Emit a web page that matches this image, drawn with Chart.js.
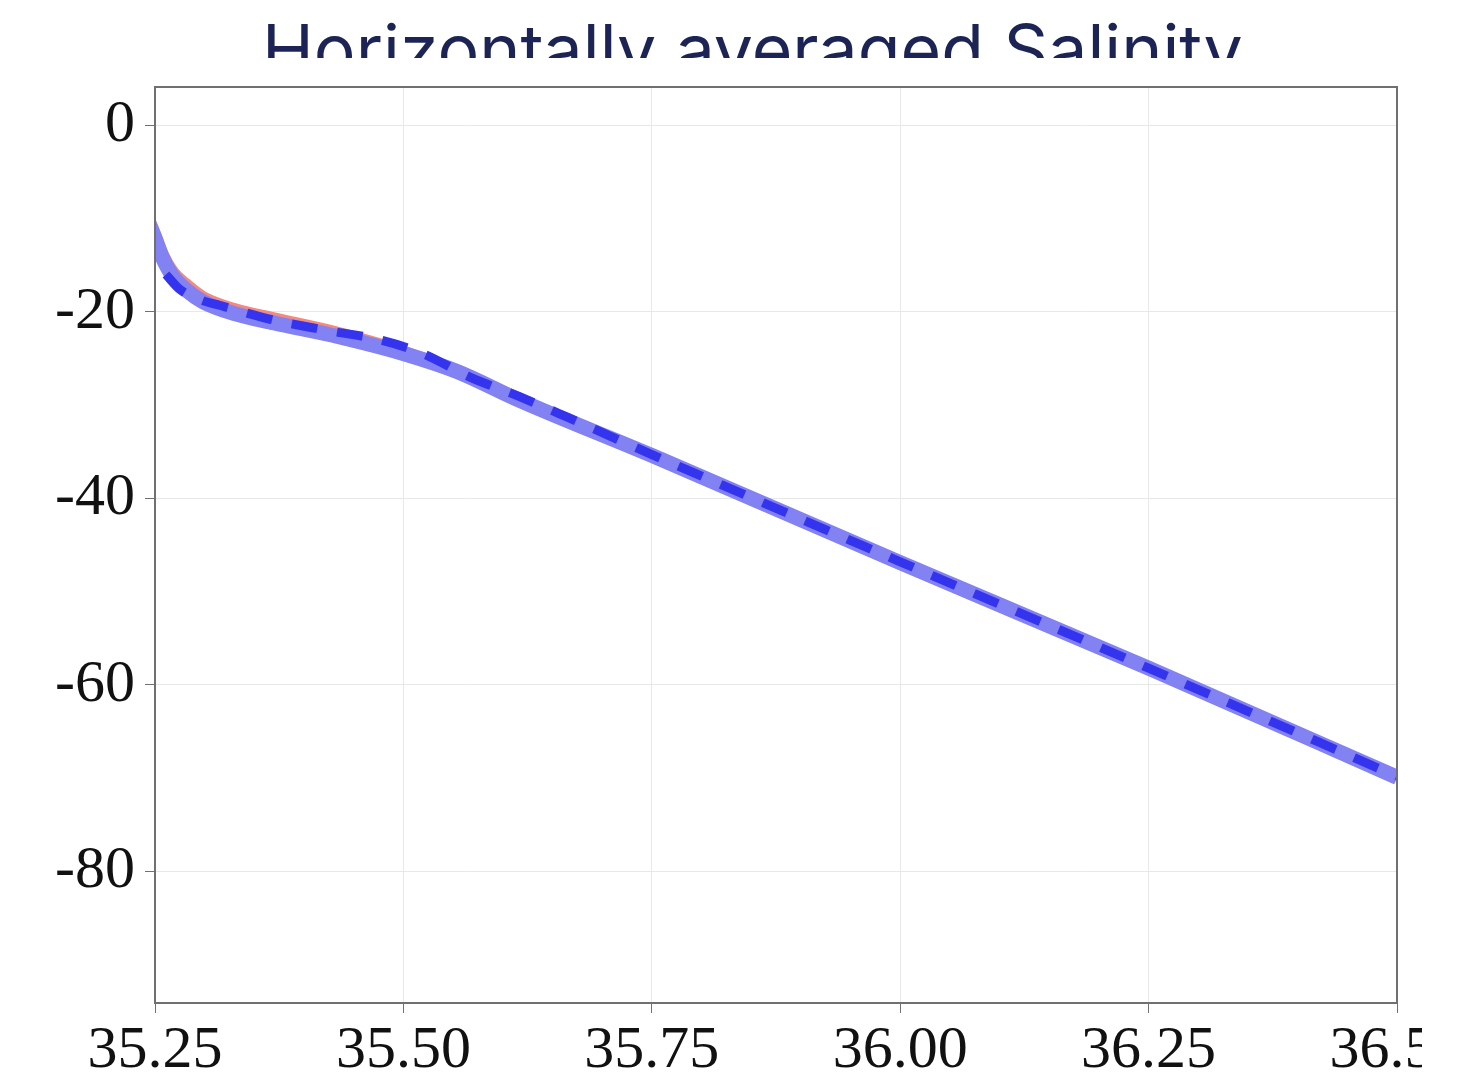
<!DOCTYPE html>
<html>
<head>
<meta charset="utf-8">
<script src="https://cdn.jsdelivr.net/npm/chart.js@4"></script>
<style>
  html, body { margin: 0; padding: 0; background: #fff; }
  #wrap { position: relative; width: 1422px; height: 1076px; overflow: hidden; }
  #chart { display: block; }
</style>
</head>
<body>
<div id="wrap"><canvas id="chart" width="1481" height="1076"></canvas></div>
<script>
const titleText = 'Horizontally averaged Salinity';

// salinity ticks along the bottom, depth ticks on the left
const salinityTicks = [35.25, 35.5, 35.75, 36.0, 36.25, 36.5];
const depthTicks = [0, -20, -40, -60, -80];

// red reference profile
const redSalinity = [35.244, 35.25, 35.258, 35.268, 35.283, 35.298, 35.33, 35.37, 35.436, 35.504, 35.554, 35.617, 35.75, 36.0, 36.25, 36.5];
const redDepth    = [-10.2, -11.7, -13.9, -15.7, -17.2, -18.4, -19.7, -20.7, -22.3, -24.4, -26.5, -29.6, -35.5, -47.0, -58.3, -70.0];

// thick light-blue profile
const blueSalinity = [35.244, 35.25, 35.258, 35.268, 35.283, 35.298, 35.33, 35.37, 35.436, 35.504, 35.554, 35.617, 35.75, 36.0, 36.25, 36.5];
const blueDepth    = [-10.5, -12.1, -14.3, -16.2, -17.8, -18.9, -20.2, -21.2, -22.7, -24.6, -26.4, -29.5, -35.4, -46.9, -58.2, -69.9];

// dashed blue profile
const dashSalinity = [35.261, 35.275, 35.298, 35.315, 35.366, 35.418, 35.476, 35.52, 35.567, 35.617, 35.665, 35.75, 36.0, 36.25, 36.5];
const dashDepth    = [-16.0, -17.6, -18.8, -19.3, -20.8, -21.9, -23.0, -24.5, -27.0, -29.1, -31.3, -35.3, -46.8, -58.2, -69.8];

const toPoints = (xs, ys) => xs.map((x, i) => ({ x: x, y: ys[i] }));

const tickFont = { family: '"Liberation Serif", "DejaVu Serif", serif', size: 60, lineHeight: 1 };

// frame around the plot area plus the clipped title on top
const framePlugin = {
  id: 'frame',
  afterDraw(chart) {
    const { ctx, chartArea: a } = chart;
    ctx.save();
    ctx.strokeStyle = '#707070';
    ctx.lineWidth = 2;
    ctx.strokeRect(a.left, a.top, a.right - a.left, a.bottom - a.top);
    ctx.restore();

    ctx.save();
    ctx.beginPath();
    ctx.rect(0, 0, chart.width, 58);
    ctx.clip();
    let size = 58;
    ctx.font = size + 'px Inter, "Open Sans", sans-serif';
    const w = ctx.measureText(titleText).width;
    size = size * 981 / w;
    ctx.font = size + 'px Inter, "Open Sans", sans-serif';
    ctx.fillStyle = '#1b2454';
    ctx.textAlign = 'left';
    ctx.textBaseline = 'alphabetic';
    ctx.fillText(titleText, 262, 24 + size * 0.727);
    ctx.restore();
  }
};

new Chart(document.getElementById('chart'), {
  type: 'scatter',
  data: {
    datasets: [
      {
        label: 'dashed',
        data: toPoints(dashSalinity, dashDepth),
        showLine: true,
        borderColor: '#3434ee',
        borderWidth: 9,
        borderDash: [26, 20],
        borderCapStyle: 'butt',
        pointRadius: 0,
        cubicInterpolationMode: 'monotone',
        clip: 0,
        order: 0
      },
      {
        label: 'blue',
        data: toPoints(blueSalinity, blueDepth),
        showLine: true,
        borderColor: '#8282f3',
        borderWidth: 15,
        pointRadius: 0,
        cubicInterpolationMode: 'monotone',
        clip: 0,
        order: 1
      },
      {
        label: 'red',
        data: toPoints(redSalinity, redDepth),
        showLine: true,
        borderColor: '#f4897e',
        borderWidth: 12,
        pointRadius: 0,
        cubicInterpolationMode: 'monotone',
        clip: 0,
        order: 2
      }
    ]
  },
  options: {
    responsive: false,
    animation: false,
    layout: { padding: { top: 87, right: 84, left: 0, bottom: 0 } },
    plugins: { legend: { display: false }, tooltip: { enabled: false }, title: { display: false } },
    scales: {
      x: {
        type: 'linear',
        min: 35.25,
        max: 36.5,
        afterBuildTicks: (scale) => { scale.ticks = salinityTicks.map(v => ({ value: v })); },
        afterFit: (scale) => { scale.height = 73; },
        grid: { color: '#e8e8e8', lineWidth: 1, tickLength: 10, tickColor: '#707070' },
        border: { display: false },
        ticks: {
          font: tickFont,
          color: '#111',
          padding: 8,
          maxRotation: 0,
          callback: (v) => Number(v).toFixed(2)
        }
      },
      y: {
        type: 'linear',
        min: -94.1,
        max: 4.1,
        afterBuildTicks: (scale) => { scale.ticks = depthTicks.map(v => ({ value: v })); },
        afterFit: (scale) => { scale.width = 155; },
        grid: { color: '#e8e8e8', lineWidth: 1, tickLength: 10, tickColor: '#707070' },
        border: { display: false },
        ticks: {
          font: tickFont,
          color: '#111',
          padding: 10,
          callback: (v) => String(v)
        }
      }
    }
  },
  plugins: [framePlugin]
});
</script>
</body>
</html>
